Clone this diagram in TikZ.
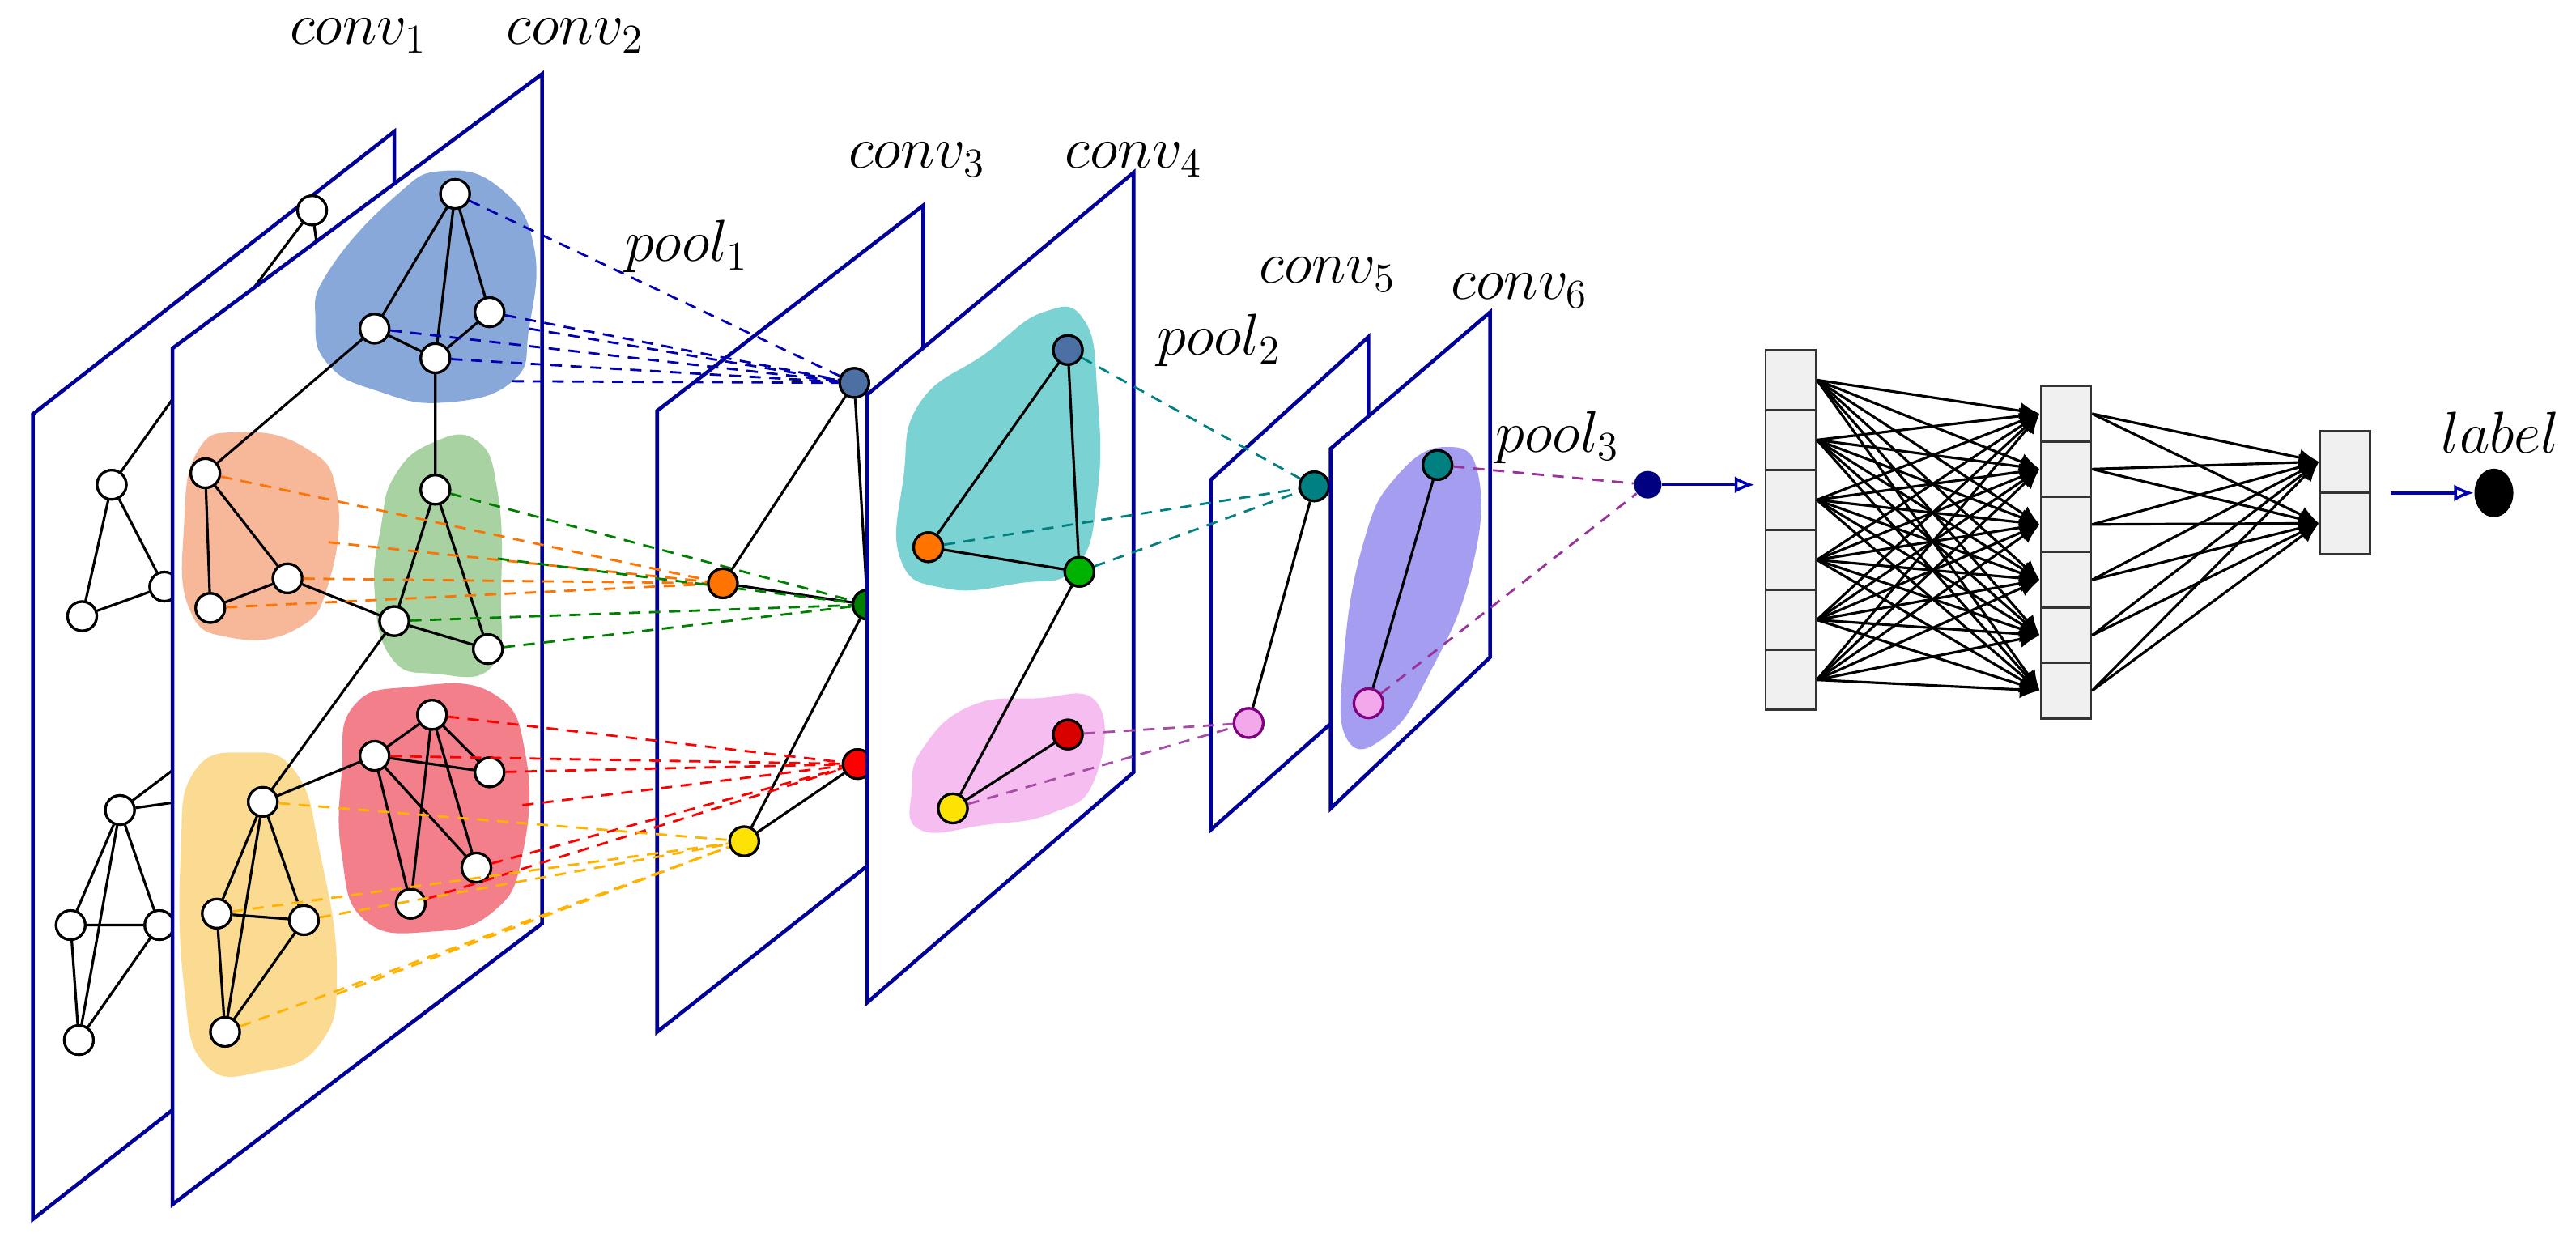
\documentclass[tikz,border=0pt]{standalone}
\usetikzlibrary{arrows.meta,shapes.geometric}
\begin{document}
\begin{tikzpicture}[x=0.0203cm,y=-0.0203cm,
  plane/.style={draw=blue!60!black,line width=1.3pt,fill=white},
  gn/.style={circle,draw,fill=white,inner sep=0pt,minimum size=0.36cm,line width=0.9pt},
  cn/.style={circle,draw,inner sep=0pt,minimum size=0.36cm,line width=0.9pt},
  ed/.style={line width=0.9pt},
  blob/.style={opacity=0.75},
  dsh/.style={dashed,line width=0.8pt,dash pattern=on 4pt off 3pt},
  lab/.style={font=\fontsize{20}{24}\selectfont,inner sep=0pt},
  cell/.style={draw=black!80,fill=black!6,line width=0.8pt,inner sep=0pt,minimum width=0.62cm},
  fc/.style={line width=0.9pt,-{Latex[length=7pt,width=6pt]}}
]
\definecolor{cblue}{RGB}{95,140,205}
\definecolor{corange}{RGB}{245,160,120}
\definecolor{cgreen}{RGB}{140,195,130}
\definecolor{cred}{RGB}{238,85,100}
\definecolor{cyellow}{RGB}{250,208,110}
\definecolor{cteal}{RGB}{80,195,195}
\definecolor{cpink}{RGB}{242,168,235}
\definecolor{cpurple}{RGB}{135,125,235}
\useasboundingbox (0,0) rectangle (1568,753);

% labels
\node[lab] (l1) at (218,22) {$conv_1$};
\node[lab] (l2) at (350,22) {$conv_2$};
\node[lab] (lp1) at (418,150) {$pool_1$};
\node[lab] (l3) at (558,97) {$conv_3$};
\node[lab] (l4) at (690,97) {$conv_4$};
\node[lab] (lp2) at (742,207) {$pool_2$};
\node[lab] (l5) at (808,167) {$conv_5$};
\node[lab] (l6) at (925,177) {$conv_6$};
\node[lab] (lp3) at (948,266) {$pool_3$};
\node[lab] (ll) at (1522,263) {$label$};

% conv1
\draw[plane] (20,252) -- (240,80) -- (240,570) -- (20,742) -- cycle;
\node[gn] (a1) at (190,128) {};
\node[gn] (a2) at (132,205) {};
\node[gn] (a3) at (68,295) {};
\node[gn] (a4) at (50,375) {};
\node[gn] (a5) at (100,357) {};
\node[gn] (b1) at (73,493) {};
\node[gn] (b2) at (43,563) {};
\node[gn] (b3) at (97,563) {};
\node[gn] (b4) at (48,633) {};
\coordinate (a1h) at (200,200);
\coordinate (b1h) at (130,450);
\coordinate (b1k) at (130,485);
\draw[ed] (a1)--(a2) (a2)--(a3) (a3)--(a4) (a4)--(a5) (a3)--(a5) (a1)--(a1h)
  (b1)--(b2) (b1)--(b3) (b2)--(b3) (b2)--(b4) (b3)--(b4) (b1)--(b4) (b1)--(b1h) (b1)--(b1k);
\foreach \n in {a1,a2,a3,a4,a5,b1,b2,b3,b4} \node[gn] at (\n) {};

% conv2
\draw[plane] (105,212) -- (330,45) -- (330,562) -- (105,733) -- cycle;
\fill[cblue,blob] plot[smooth cycle,tension=0.8] coordinates {(200,165) (240,120) (270,104) (305,115) (325,150) (322,200) (312,232) (270,245) (230,238) (200,222) (192,195)};
\fill[corange,blob] plot[smooth cycle,tension=0.8] coordinates {(120,275) (145,263) (185,272) (205,300) (200,355) (180,383) (140,388) (115,370) (112,320)};
\fill[cgreen,blob] plot[smooth cycle,tension=0.8] coordinates {(240,290) (262,270) (290,268) (303,300) (305,360) (300,405) (265,410) (238,400) (228,360) (232,320)};
\fill[cred,blob] plot[smooth cycle,tension=0.8] coordinates {(215,430) (250,418) (300,422) (320,460) (318,520) (300,555) (262,567) (222,560) (208,520) (208,470)};
\fill[cyellow,blob] plot[smooth cycle,tension=0.8] coordinates {(118,470) (150,458) (180,470) (195,520) (205,590) (195,635) (160,652) (125,648) (112,600) (110,520)};
\node[gn] (c1) at (277,118) {};
\node[gn] (c2) at (298,190) {};
\node[gn] (c3) at (265,218) {};
\node[gn] (c4) at (228,200) {};
\node[gn] (o1) at (125,288) {};
\node[gn] (o2) at (175,352) {};
\node[gn] (o3) at (128,370) {};
\node[gn] (g1) at (265,298) {};
\node[gn] (g2) at (240,378) {};
\node[gn] (g3) at (297,395) {};
\node[gn] (r1) at (263,435) {};
\node[gn] (r2) at (228,460) {};
\node[gn] (r3) at (298,470) {};
\node[gn] (r4) at (290,528) {};
\node[gn] (r5) at (250,550) {};
\node[gn] (y1) at (160,488) {};
\node[gn] (y2) at (132,556) {};
\node[gn] (y3) at (185,560) {};
\node[gn] (y4) at (137,628) {};
\draw[ed] (c1)--(c4) (c1)--(c3) (c1)--(c2) (c2)--(c3) (c3)--(c4) (c3)--(g1) (c4)--(o1)
  (o1)--(o2) (o1)--(o3) (o2)--(o3) (o2)--(g2)
  (g1)--(g2) (g1)--(g3) (g2)--(g3) (g2)--(y1)
  (r1)--(r2) (r1)--(r3) (r2)--(r3) (r2)--(r4) (r2)--(r5) (r1)--(r5) (r1)--(r4)
  (y1)--(r2) (y1)--(y2) (y1)--(y3) (y1)--(y4) (y2)--(y3) (y2)--(y4) (y3)--(y4);
\foreach \n in {c1,c2,c3,c4,o1,o2,o3,g1,g2,g3,r1,r2,r3,r4,r5,y1,y2,y3,y4} \node[gn] at (\n) {};

% conv3
\draw[plane] (400,250) -- (562,125) -- (562,500) -- (400,628) -- cycle;
\node[cn,fill=cblue!80!black] (p1) at (520,233) {};
\node[cn,fill=orange!90!red] (p2) at (440,355) {};
\node[cn,fill=green!50!black] (p3) at (528,368) {};
\node[cn,fill=red] (p4) at (522,465) {};
\node[cn,fill=yellow!85!orange] (p5) at (453,512) {};
\draw[ed] (p1)--(p2) (p1)--(p3) (p2)--(p3) (p3)--(p5) (p5)--(p4);
% pooling connections 1
\foreach \s/\t in {c1/p1,c2/p1,c3/p1,c4/p1} \draw[dsh,blue!70!black] (\s)--(\t);
\coordinate (bb1) at (322,200); \coordinate (bb2) at (312,232);
\draw[dsh,blue!70!black] (bb1)--(p1) (bb2)--(p1);
\foreach \s in {o1,o2,o3} \draw[dsh,orange!90!red] (\s)--(p2);
\coordinate (oo1) at (200,330); \draw[dsh,orange!90!red] (oo1)--(p2);
\foreach \s in {g1,g2,g3} \draw[dsh,green!50!black] (\s)--(p3);
\coordinate (gg1) at (303,340); \draw[dsh,green!50!black] (gg1)--(p3);
\foreach \s in {r1,r2,r3,r4,r5} \draw[dsh,red] (\s)--(p4);
\coordinate (rr1) at (318,490); \draw[dsh,red] (rr1)--(p4);
\foreach \s in {y1,y2,y3,y4} \draw[dsh,orange!60!yellow] (\s)--(p5);
\coordinate (yy1) at (205,605); \draw[dsh,orange!60!yellow] (yy1)--(p5);
\foreach \n/\c in {p1/cblue!80!black,p2/orange!90!red,p3/green!50!black,p4/red,p5/yellow!85!orange} \node[cn,fill=\c] at (\n) {};

% conv4
\draw[plane] (528,240) -- (690,105) -- (690,470) -- (528,610) -- cycle;
\fill[cteal,blob] plot[smooth cycle,tension=0.8] coordinates {(560,245) (600,215) (635,190) (660,195) (668,240) (668,300) (655,345) (620,355) (575,358) (548,340) (550,290)};
\fill[cpink,blob] plot[smooth cycle,tension=0.8] coordinates {(562,455) (590,430) (630,425) (668,428) (666,475) (640,495) (600,502) (560,505) (555,480)};
\node[cn,fill=cblue!80!black] (q1) at (650,213) {};
\node[cn,fill=orange!90!red] (q2) at (565,333) {};
\node[cn,fill=green!70!black] (q3) at (657,348) {};
\node[cn,fill=red!85!black] (q4) at (650,447) {};
\node[cn,fill=yellow!85!orange] (q5) at (580,492) {};
\draw[ed] (q1)--(q2) (q1)--(q3) (q2)--(q3) (q3)--(q5) (q4)--(q5);
\foreach \n/\c in {q1/cblue!80!black,q2/orange!90!red,q3/green!70!black,q4/red!85!black,q5/yellow!85!orange} \node[cn,fill=\c] at (\n) {};

% conv5
\draw[plane] (737,292) -- (833,205) -- (833,420) -- (737,505) -- cycle;
\node[cn,fill=teal] (s1) at (800,296) {};
\node[cn,fill=cpink,draw=violet] (s2) at (760,440) {};
\draw[ed] (s1)--(s2);
\foreach \s in {q1,q2,q3} \draw[dsh,teal] (\s)--(s1);
\foreach \s in {q4,q5} \draw[dsh,violet!70] (\s)--(s2);
\node[cn,fill=teal] at (s1) {};
\node[cn,fill=cpink,draw=violet] at (s2) {};

% conv6
\draw[plane] (810,273) -- (907,190) -- (907,400) -- (810,492) -- cycle;
\fill[cpurple,blob] plot[smooth cycle,tension=0.8] coordinates {(850,290) (880,272) (900,290) (895,350) (870,410) (845,447) (820,450) (818,400) (830,330)};
\node[cn,fill=teal] (t1) at (875,283) {};
\node[cn,fill=cpink,draw=violet] (t2) at (833,428) {};
\draw[ed] (t1)--(t2);
\node[cn,fill=teal] at (t1) {};
\node[cn,fill=cpink,draw=violet] at (t2) {};

% pool3
\node[circle,fill=blue!50!black,inner sep=0pt,minimum size=0.34cm] (u) at (1003,295) {};
\draw[dsh,violet!80] (t1)--(u) (t2)--(u);
\coordinate (uo) at (1068,295);
\draw[blue!70!black,line width=1pt,-{Latex[open,length=7pt,width=6pt]}] (u)--(uo);

% FC layers
\foreach \i in {0,...,5} {
  \node[cell,minimum height=0.741cm] (f\i) at (1090,{231.25+36.5*\i}) {};
  \node[cell,minimum height=0.684cm] (h\i) at (1257.5,{251.8+33.7*\i}) {};
}
\foreach \i in {0,1} \node[cell,minimum height=0.761cm] (k\i) at (1427.5,{281+37.5*\i}) {};
\foreach \i in {0,...,5} \foreach \j in {0,...,5} \draw[fc] (f\i.east)--(h\j.west);
\foreach \i in {0,...,5} \foreach \j in {0,1} \draw[fc] (h\i.east)--(k\j.west);
\node[ellipse,fill=black,minimum width=0.48cm,minimum height=0.6cm,inner sep=0pt] (out) at (1518,300) {};
\coordinate (ks) at (1455,300);
\draw[blue!70!black,line width=1pt,-{Latex[open,length=7pt,width=6pt]}] (ks)--(out);
\end{tikzpicture}
\end{document}
